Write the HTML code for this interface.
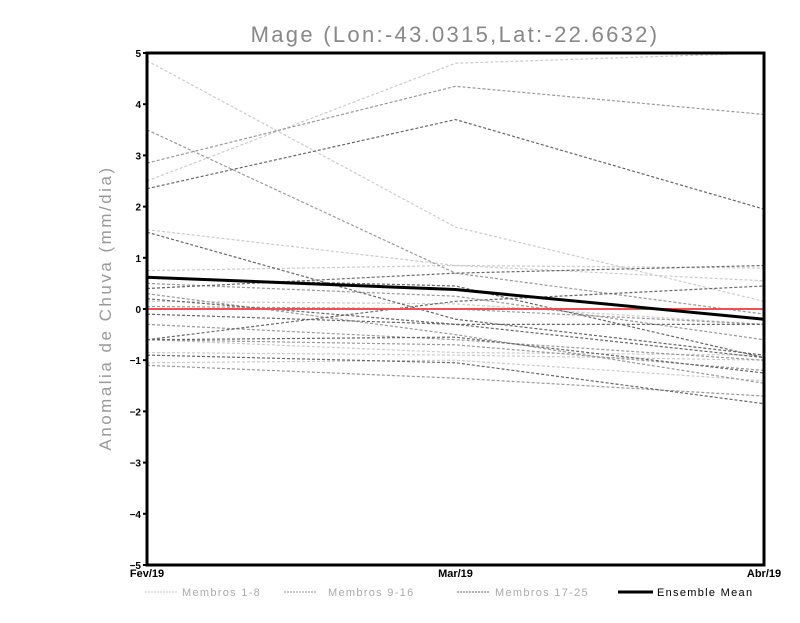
<!DOCTYPE html>
<html><head><meta charset="utf-8"><style>
body{margin:0;background:#fff;width:800px;height:618px;overflow:hidden}
text{font-family:"Liberation Sans",sans-serif}
</style></head><body>
<svg id="chart" width="800" height="618" xmlns="http://www.w3.org/2000/svg">
<text x="455" y="42" text-anchor="middle" font-size="22" letter-spacing="2.3" fill="#888">Mage (Lon:-43.0315,Lat:-22.6632)</text>
<text transform="translate(111,308) rotate(-90)" text-anchor="middle" font-size="17" letter-spacing="2.5" fill="#999">Anomalia de Chuva (mm/dia)</text>
<g id="plot"></g>
<g id="axes"></g>
<g id="legend"></g>
</svg>
<script>
const categories=["Fev/19","Mar/19","Abr/19"];
const yTicks=[5,4,3,2,1,0,-1,-2,-3,-4,-5];
const membersLight=[[4.85,1.6,0.15],[2.5,4.8,5.1],[1.55,0.85,0.55],[0.75,0.85,0.8],[-0.85,-0.9,-1.0],[-0.6,-0.85,-0.9],[0.15,0.1,-0.3],[-1.05,-1.0,-1.4]];
const membersMid=[[2.85,4.35,3.8],[3.5,0.7,-0.1],[0.5,0.25,-0.6],[-0.3,-0.6,-1.0],[0.3,-0.5,-1.45],[-0.6,-0.7,-1.2],[-1.1,-1.35,-1.7],[0.05,0.0,-0.3]];
const membersDark=[[2.35,3.7,1.95],[1.5,-0.2,-0.9],[0.4,0.7,0.85],[0.6,0.45,-0.95],[-0.6,0.15,0.45],[-0.6,-0.55,-1.25],[-0.9,-1.05,-1.85],[0.2,-0.3,-0.95],[-0.1,-0.3,-0.3]];
const ensembleMean=[0.62,0.38,-0.2];
const legendLabels=["Membros 1-8","Membros 9-16","Membros 17-25","Ensemble Mean"];

const L=147,R=764,T=53,B=565;
const xS=i=>L+(R-L)*i/(categories.length-1);
const yS=v=>{v=Math.max(-5,Math.min(5,v));return B-(v+5)/10*(B-T);};
const NS="http://www.w3.org/2000/svg";
function mk(tag,attrs,parent){const e=document.createElementNS(NS,tag);for(const k in attrs)e.setAttribute(k,attrs[k]);parent.appendChild(e);return e;}
const plot=document.getElementById('plot'),axes=document.getElementById('axes'),leg=document.getElementById('legend');
function series(arr,color,name){arr.forEach((s,j)=>{
 const p=mk('polyline',{points:s.map((v,i)=>xS(i)+','+yS(v)).join(' '),fill:'none',stroke:color,'stroke-width':1.2,'stroke-dasharray':'3,2'},plot);
 
 });}
series(membersLight,'#cccccc','member-light');
series(membersMid,'#999999','member-mid');
series(membersDark,'#666666','member-dark');
const z=mk('line',{x1:L,x2:R,y1:yS(0),y2:yS(0),stroke:'#f05050','stroke-width':2},plot);


const m=mk('polyline',{points:ensembleMean.map((v,i)=>xS(i)+','+yS(v)).join(' '),fill:'none',stroke:'#000','stroke-width':3},plot);


const fr=mk('rect',{x:L,y:T,width:R-L,height:B-T,fill:'none',stroke:'#000','stroke-width':3},axes);


yTicks.forEach(v=>{
 mk('line',{x1:L-4,x2:L,y1:yS(v),y2:yS(v),stroke:'#000','stroke-width':2},axes);
 const t=mk('text',{x:L-6,y:yS(v)+4,'text-anchor':'end','font-size':10,'font-weight':'bold'},axes);
 t.textContent=(v<0?'\u2212':'')+Math.abs(v);
 
 });
categories.forEach((c,i)=>{
 const t=mk('text',{x:xS(i),y:577,'text-anchor':'middle','font-size':11,'font-weight':'bold'},axes);
 t.textContent=c;
 
 });
const legX=[[145,178,182],[284,316,328],[457,489,495],[618,653,657]];
const legC=['#cccccc','#999999','#666666','#000'];
legendLabels.forEach((lab,i)=>{
 const ln=mk('line',{x1:legX[i][0],x2:legX[i][1],y1:592,y2:592,stroke:legC[i],'stroke-width':i==3?3:1,'stroke-dasharray':i==3?'':'2,1'},leg);
 
 
 const t=mk('text',{x:legX[i][2],y:596,'font-size':11,'letter-spacing':'1.3',fill:i==3?'#000':'#aaa'},leg);
 t.textContent=lab;
 
 });
</script>
</body></html>
